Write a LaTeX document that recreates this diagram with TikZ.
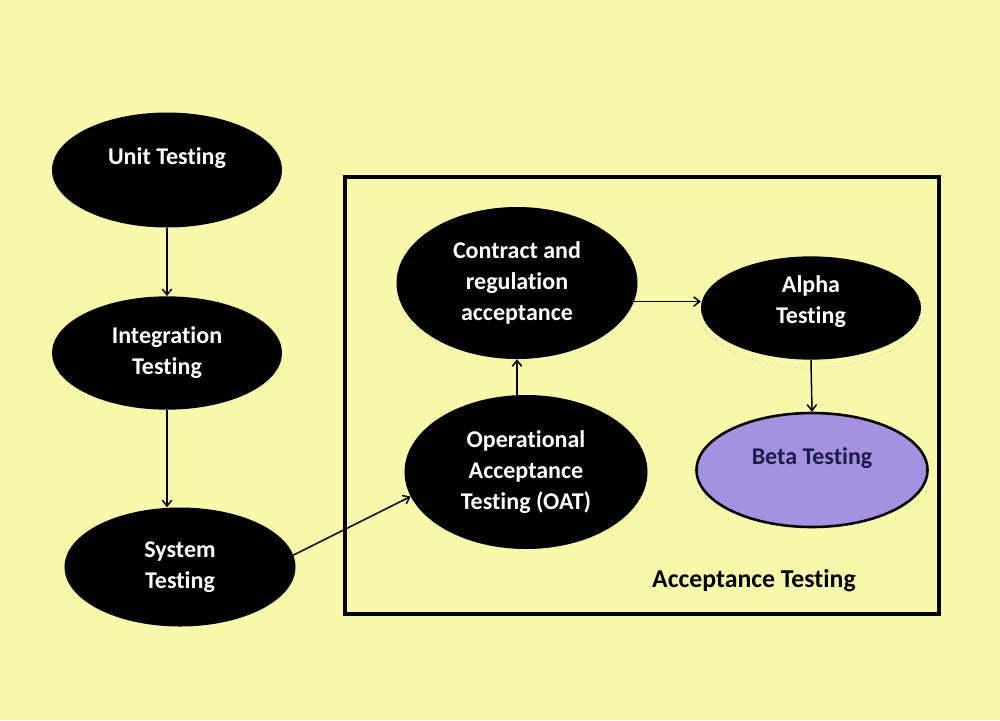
\documentclass[tikz,border=0pt]{standalone}
\usepackage{fontspec}
\setmainfont{Carlito}[Ligatures=NoCommon]
\usetikzlibrary{shapes.geometric,arrows.meta}
\definecolor{paper}{RGB}{248,249,170}
\definecolor{betafill}{RGB}{164,146,224}
\definecolor{betaink}{RGB}{28,26,78}
\tikzset{
  stage/.style={ellipse, fill=black, text=white, inner sep=0pt, align=center,
    font=\bfseries\fontsize{20.5}{26.5}\selectfont},
  flow/.style={-{Straight Barb[length=5pt,width=8pt]}, line width=1.3pt},
}

\begin{document}
\begin{tikzpicture}[x=0.03cm, y=-0.03cm]

      % page
      \fill [paper] (0,0) rectangle (1000,720);
      \useasboundingbox (0,0) rectangle (1000,720);

      % frame round the acceptance stages
      \draw [line width=3pt] (345,177) rectangle (939,614);

      % stages on the left
      \node [stage, minimum width=6.9cm, minimum height=3.45cm, text depth=23pt] (unit) at (167,170) {Unit Testing};
      \node [stage, minimum width=6.9cm, minimum height=3.4cm] (integ) at (167,353) {Integration\\Testing};
      \node [stage, minimum width=6.93cm, minimum height=3.57cm] (system) at (180,567) {System\\Testing};

      % stages in the frame
      \node [stage, minimum width=7.23cm, minimum height=4.56cm] (contract) at (517,283) {Contract and\\regulation\\acceptance};
      \node [stage, minimum width=7.29cm, minimum height=4.62cm] (oat) at (526,472) {Operational\\Acceptance\\Testing (OAT)};
      \node [stage, minimum width=6.6cm, minimum height=3.1cm, text depth=14pt] (alpha) at (811,308) {Alpha\\Testing};
      \node [stage, fill=betafill, draw=black, line width=2.2pt, text=betaink,
             minimum width=6.93cm, minimum height=3.42cm, text depth=23pt] (beta) at (812,470) {Beta Testing};
      \draw [gray!50, dotted, line width=0.6pt, shift={(alpha.center)}]
            (12:114 and 60) arc [start angle=12, end angle=168, x radius=114, y radius=60];

      % connectors
      \draw [flow] (unit.south) -- (integ.north);
      \draw [flow] (integ.south) -- (integ.south |- system.north);
      \draw [flow] (system.6) -- (oat.192);
      \draw [flow] (contract.south |- oat.north) -- (contract.south);
      \draw [flow] (contract.-9) -- (contract.-9 -| alpha.west);
      \draw [flow] (alpha.south) -- (beta.north);

      % add label
      \node [font=\bfseries\fontsize{22}{26}\selectfont] (acclabel) at (754,581) {Acceptance Testing};

\end{tikzpicture}
\end{document}
